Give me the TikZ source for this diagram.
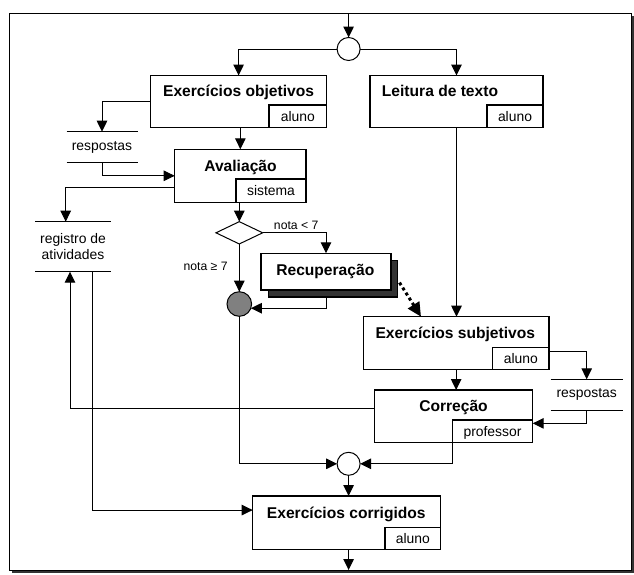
\documentclass[tikz,border=0pt]{standalone}
\usepackage{fontspec}
\setmainfont{Liberation Sans}
\usetikzlibrary{arrows.meta,shapes.geometric}
\begin{document}
\begin{tikzpicture}[x=1pt,y=-1pt,
  line width=1pt,
  arr/.style={-{Triangle[length=11pt,width=10.5pt]}},
  dotarr/.style={line width=3pt,dash pattern=on 3pt off 3pt,-{Triangle[length=14pt,width=13pt]}},
  box/.style={draw,fill=white,line width=1.2pt,inner sep=0pt,outer sep=0pt},
  sub/.style={draw,fill=white,line width=1.2pt,inner sep=0pt,outer sep=0pt,anchor=south east,
    font=\fontsize{13.9}{16}\selectfont,text height=10pt,text depth=0pt},
  title/.style={anchor=base,inner sep=0pt,font=\fontsize{15.6}{18}\selectfont\bfseries},
  store/.style={inner sep=0pt,outer sep=0pt,align=center,font=\fontsize{13.9}{16}\selectfont},
  cond/.style={anchor=base,inner sep=0pt,font=\fontsize{12.2}{14}\selectfont},
  junction/.style={circle,draw,fill=white,minimum size=23pt,inner sep=0pt,outer sep=0pt},
]
\useasboundingbox (0,0) rectangle (634,574);

% outer frame with its shadow
\node[fill=black!80,minimum width=622pt,minimum height=557pt,inner sep=0pt] (framesh) at (323,294.5) {};
\node[draw,fill=white,line width=1pt,minimum width=622pt,minimum height=557pt,inner sep=0pt,outer sep=0pt] (frame) at (320,291.5) {};

% junctions
\node[junction] (topc) at (348.6,49) {};
\node[junction] (botc) at (348.6,463.8) {};
\node[junction,fill=black!50,minimum size=24.6pt] (gray) at (239.3,304) {};

% activities
\node[box,minimum width=176.2pt,minimum height=51.8pt] (exobj) at (238.6,101.4) {};
\node[sub,minimum width=57.7pt,minimum height=22.3pt] (exobjs) at (exobj.south east) {aluno};
\node[title] (exobjt) at (238.6,96.7) {Exercícios objetivos};

\node[box,minimum width=173pt,minimum height=51.8pt] (leitura) at (456.5,101.4) {};
\node[sub,minimum width=56pt,minimum height=22.3pt] (leituras) at (leitura.south east) {aluno};
\node[title] (leiturat) at (440,96.7) {Leitura de texto};

\node[box,minimum width=131.3pt,minimum height=53pt] (aval) at (240.35,175.8) {};
\node[sub,minimum width=70pt,minimum height=23.3pt] (avals) at (aval.south east) {sistema};
\node[title] (avalt) at (240.5,171) {Avaliação};

\node[diamond,draw,fill=white,minimum width=46.7pt,minimum height=22.3pt,inner sep=0pt,outer sep=0pt] (dia) at (239.3,232.8) {};
\node[cond] (lt) at (296.2,229) {nota < 7};
\node[cond] (ge) at (205.6,270) {nota ≥ 7};

\node[box,fill=black!80,minimum width=129pt,minimum height=36.6pt] (recsh) at (333,278.6) {};
\node[box,minimum width=130pt,minimum height=36.7pt] (recup) at (326,271.6) {};
\node[title] (recupt) at (325.3,275) {Recuperação};

\node[box,minimum width=185.7pt,minimum height=52.6pt] (exsubj) at (456.15,343) {};
\node[sub,minimum width=56.3pt,minimum height=21.6pt] (exsubjs) at (exsubj.south east) {aluno};
\node[title] (exsubjt) at (455.3,338.3) {Exercícios subjetivos};

\node[box,minimum width=158.4pt,minimum height=52.7pt] (cor) at (453.5,416.35) {};
\node[sub,minimum width=80.4pt,minimum height=22.7pt] (cors) at (cor.south east) {professor};
\node[title] (cort) at (453.5,411.7) {Correção};

\node[box,minimum width=188.1pt,minimum height=53.3pt] (excorr) at (346.75,522.65) {};
\node[sub,minimum width=55.8pt,minimum height=22pt] (excorrs) at (excorr.south east) {aluno};
\node[title] (excorrt) at (346.3,518) {Exercícios corrigidos};

% data stores
\node[store,minimum width=71pt,minimum height=30.6pt] (resp1) at (102,147) {respostas};
\node[store,minimum width=76pt,minimum height=50pt] (reg) at (73,246.7) {registro de\\atividades};
\node[store,minimum width=72pt,minimum height=31pt] (resp2) at (586.7,394.8) {respostas};
\foreach \s in {resp1,reg,resp2}{
  \draw (\s.north west) -- (\s.north east) (\s.south west) -- (\s.south east);
}

% flows
\draw[arr] (frame.north -| topc) -- (topc.north);
\draw[arr] (topc.west) -| (exobj.north);
\draw[arr] (topc.east) -| (leitura.north);
\draw[arr] (exobj.south -| aval.north) -- (aval.north);
\draw[arr] (exobj.west) -| (resp1.north);
\draw[arr] (resp1.south) |- (aval.west);
\draw[arr] ([yshift=-11.9pt]aval.west) -| ([xshift=-7.3pt]reg.north);
\draw[arr] (aval.south -| dia.north) -- (dia.north);
\draw[arr] (dia.east) -| (recup.north);
\draw[arr] (dia.south) -- (gray.north);
\draw[arr] (recsh.south -| recup.south) |- (gray.-20);
\draw[dotarr] ([shift={(2pt,-4pt)}]recsh.east) -- ([xshift=57.7pt]exsubj.north west);
\draw[arr] (leitura.south) -- (leitura.south |- exsubj.north);
\draw[arr] ([yshift=-8.7pt]exsubj.east) -| (resp2.north);
\draw[arr] (resp2.south) |- ([yshift=-7pt]cor.east);
\draw[arr] (exsubj.south) -- (exsubj.south |- cor.north);
\draw[arr] ([yshift=8pt]cor.west) -| ([xshift=-3pt]reg.south);
\draw[arr] ([xshift=19.3pt]reg.south) |- ([yshift=12.6pt]excorr.west);
\draw[arr] (gray.south) |- (botc.west);
\draw[arr] (cors.south west) |- (botc.east);
\draw[arr] (botc.south) -- (botc.south |- excorr.north);
\draw[arr] (botc.south |- excorr.south) -- (botc.south |- frame.south);
\end{tikzpicture}
\end{document}
